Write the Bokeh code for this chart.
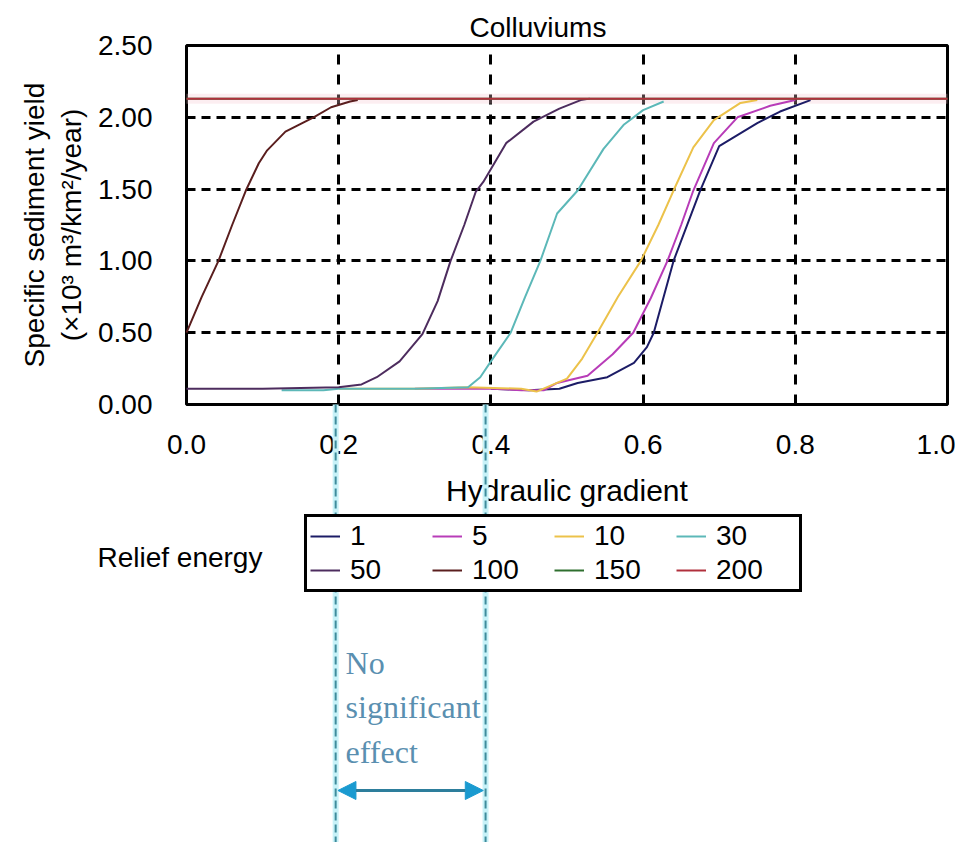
from bokeh.plotting import figure
from bokeh.models import (FixedTicker, Legend, LegendItem, Label, Arrow, NormalHead, Title, Range1d, GridBox)
from bokeh.embed import file_html
from bokeh.resources import INLINE

# ---- data ----
x1 = [0.40, 0.45, 0.49, 0.514, 0.553, 0.588, 0.605, 0.614, 0.64, 0.675, 0.70, 0.75, 0.78, 0.82]
y1 = [0.11, 0.10, 0.11, 0.15, 0.19, 0.29, 0.40, 0.50, 1.00, 1.49, 1.80, 1.96, 2.04, 2.12]
x5 = [0.30, 0.40, 0.44, 0.47, 0.487, 0.527, 0.56, 0.587, 0.61, 0.632, 0.65, 0.666, 0.693, 0.724, 0.767, 0.80]
y5 = [0.11, 0.11, 0.10, 0.10, 0.15, 0.20, 0.35, 0.50, 0.74, 1.00, 1.25, 1.49, 1.82, 2.00, 2.08, 2.12]
x10 = [0.20, 0.30, 0.37, 0.44, 0.46, 0.50, 0.52, 0.54, 0.567, 0.597, 0.62, 0.64, 0.666, 0.693, 0.728, 0.75]
y10 = [0.11, 0.11, 0.12, 0.11, 0.09, 0.18, 0.32, 0.50, 0.75, 1.00, 1.25, 1.49, 1.79, 1.98, 2.10, 2.12]
x30 = [0.125, 0.18, 0.20, 0.30, 0.37, 0.386, 0.40, 0.426, 0.445, 0.465, 0.487, 0.514, 0.548, 0.575, 0.60, 0.627]
y30 = [0.10, 0.10, 0.11, 0.11, 0.12, 0.19, 0.30, 0.50, 0.75, 1.00, 1.33, 1.49, 1.78, 1.95, 2.05, 2.11]
x50 = [0.0, 0.10, 0.20, 0.23, 0.25, 0.28, 0.31, 0.33, 0.347, 0.365, 0.38, 0.39, 0.42, 0.456, 0.49, 0.518, 0.53]
y50 = [0.11, 0.11, 0.12, 0.14, 0.19, 0.30, 0.49, 0.72, 1.00, 1.25, 1.48, 1.55, 1.82, 1.97, 2.06, 2.12, 2.13]
x100 = [0.0, 0.02, 0.042, 0.06, 0.078, 0.095, 0.106, 0.13, 0.167, 0.19, 0.215, 0.225]
y100 = [0.50, 0.75, 1.00, 1.25, 1.49, 1.68, 1.77, 1.90, 2.00, 2.07, 2.11, 2.12]
x150 = [0.0, 1.0]
y150 = [2.13, 2.13]
x200 = [0.0, 1.0]
y200 = [2.13, 2.13]

series_names = ["1", "5", "10", "30", "50", "100", "150", "200"]
series_x = [x1, x5, x10, x30, x50, x100, x150, x200]
series_y = [y1, y5, y10, y30, y50, y100, y150, y200]
series_colors = ["#1c1c66", "#b83cb8", "#ecc24a", "#5cb8b8", "#4d2c5e", "#5a1e1e", "#2f6f2f", "#b0303c"]

x_ticks = [0.0, 0.2, 0.4, 0.6, 0.8, 1.0]
x_tick_labels = ["0.0", "0.2", "0.4", "0.6", "0.8", "1.0"]
y_ticks = [0.0, 0.5, 1.0, 1.5, 2.0, 2.5]
y_tick_labels = ["0.00", "0.50", "1.00", "1.50", "2.00", "2.50"]

effect_range = [0.196, 0.393]   # "No significant effect" band of hydraulic gradient
effect_text = ["No", "significant", "effect"]

FONT = "Liberation Sans"

# ---- layout (pixels) ----
W, H = 955, 842
L, R, T, B = 186, 947, 45, 404          # frame edges of the chart

# ---- chart frame, axes and grid ----
p = figure(width=W, height=H, x_range=(0, 1), y_range=(0, 2.5),
           output_backend="svg", toolbar_location=None, frame_align=False,
           min_border_left=L, min_border_right=W - R, min_border_top=T, min_border_bottom=H - B)
p.title = Title(text="Colluviums", align="left", offset=283, standoff=6, text_font=FONT,
                text_font_size="28px", text_font_style="normal", text_color="#000000")
p.background_fill_color = "white"
p.border_fill_color = "white"
p.outline_line_color = "black"
p.outline_line_width = 3

for ax in (p.xaxis, p.yaxis):
    ax.axis_line_color = None
    ax.major_tick_line_color = None
    ax.minor_tick_line_color = None
    ax.major_tick_in = 0
    ax.major_tick_out = 0
    ax.minor_tick_out = 0
    ax.major_label_text_font = FONT
    ax.major_label_text_font_size = "28px"
    ax.major_label_text_color = "black"
    ax.axis_label_text_font = FONT
    ax.axis_label_text_font_style = "normal"
    ax.axis_label_text_color = "black"

p.xaxis.ticker = FixedTicker(ticks=x_ticks)
p.xaxis.major_label_overrides = dict(zip(x_ticks, x_tick_labels))
p.yaxis.ticker = FixedTicker(ticks=y_ticks)
p.yaxis.major_label_overrides = dict(zip(y_ticks, y_tick_labels))
p.xaxis.major_label_standoff = 30
p.yaxis.major_label_standoff = 34
p.xaxis.axis_label = "Hydraulic gradient"
p.xaxis.axis_label_text_font_size = "30px"
p.xaxis.axis_label_standoff = 17
p.yaxis.axis_label = "Specific sediment yield\n(×10³ m³/km²/year)"
p.yaxis.axis_label_text_font_size = "28px"
p.yaxis.axis_label_standoff = 8

p.xgrid.ticker = FixedTicker(ticks=x_ticks[1:-1])
p.ygrid.ticker = FixedTicker(ticks=y_ticks[1:-1])
for g in (p.xgrid, p.ygrid):
    g.grid_line_color = "black"
    g.grid_line_width = 3
p.xgrid.grid_line_dash = "10 10"
p.ygrid.grid_line_dash = "9 6"

# ---- transparent overlay on the same scale: curves, legend, annotation ----
px_per_x = (R - L) / (x_ticks[-1] - x_ticks[0])
px_per_y = (B - T) / (y_ticks[-1] - y_ticks[0])
q = figure(width=W, height=H,
           x_range=Range1d(-L / px_per_x, (W - L) / px_per_x),
           y_range=Range1d(-(H - B) / px_per_y, B / px_per_y),
           output_backend="svg", toolbar_location=None, frame_align=False,
           min_border=0, min_border_left=0, min_border_right=0, min_border_top=0, min_border_bottom=0)
q.axis.visible = False
q.xgrid.visible = False
q.ygrid.visible = False
q.outline_line_color = None
q.background_fill_alpha = 0
q.border_fill_alpha = 0

# faint halo under the 200 line
q.line(x200, y200, line_color="#f6c6cf", line_width=10, line_alpha=0.3)

renderers = {}
for name, xs, ys, col in zip(series_names, series_x, series_y, series_colors):
    renderers[name] = q.line(xs, ys, line_color=col, line_width=2)

items = [LegendItem(label=n, renderers=[renderers[n]]) for n in series_names]
legend = Legend(items=items, orientation="horizontal", ncols=4,
                location=(304, 250),
                label_text_font=FONT, label_text_font_size="28px", label_text_color="black",
                glyph_width=30, glyph_height=26, label_height=26, label_width=80,
                label_standoff=10, spacing=2, padding=3, margin=0,
                border_line_color="black", border_line_width=3, border_line_alpha=1.0,
                background_fill_color="white", background_fill_alpha=1.0)
q.add_layout(legend, "center")

q.add_layout(Label(x=-0.117, y=-1.065, text="Relief energy", text_font=FONT,
                   text_font_size="28px", text_baseline="middle", text_align="left",
                   text_color="black"))

y_bottom = -(H - B) / px_per_y
q.segment(x0=effect_range, y0=[0, 0], x1=effect_range, y1=[y_bottom, y_bottom],
          line_color="#c8f2f8", line_width=6)
q.segment(x0=effect_range, y0=[0, 0], x1=effect_range, y1=[y_bottom, y_bottom],
          line_color="#3f8c9c", line_width=2, line_dash="8 4")

q.add_layout(Arrow(x_start=effect_range[0] + 0.003, y_start=-2.688,
                   x_end=effect_range[1] - 0.003, y_end=-2.688,
                   line_color="#2d7e9c", line_width=3,
                   start=NormalHead(size=18, fill_color="#1a9ad0", line_color="#1a9ad0"),
                   end=NormalHead(size=18, fill_color="#1a9ad0", line_color="#1a9ad0")))

for i, t in enumerate(effect_text):
    q.add_layout(Label(x=effect_range[0] + 0.013, y=-1.80 - 0.31 * i, text=t,
                       text_font="Liberation Serif", text_font_size="32px",
                       text_baseline="middle", text_align="left", text_color="#5a8fb0"))

layout = GridBox(children=[(p, 0, 0), (q, 0, 0)], width=W, height=H)
open("out.html", "w").write(file_html(layout, INLINE))
